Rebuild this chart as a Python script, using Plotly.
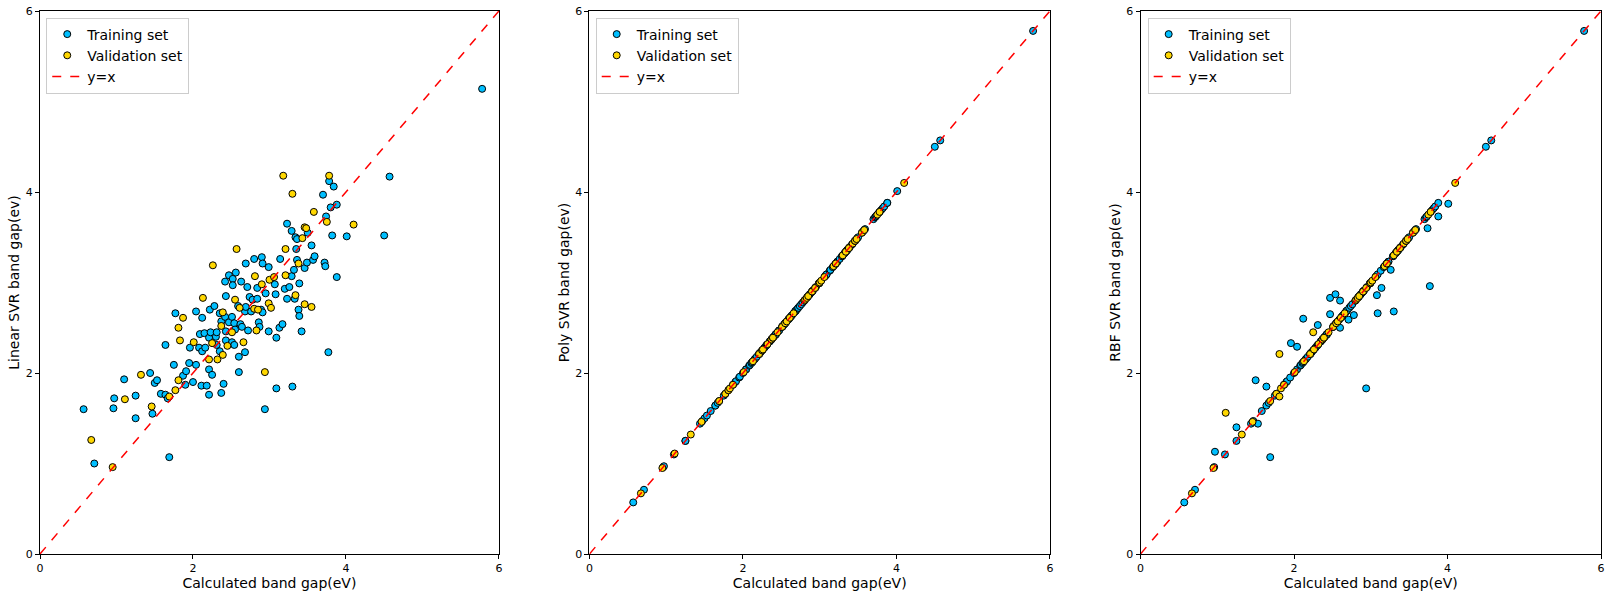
import plotly.graph_objects as go

# calculated band gaps (x) and model predictions (y)
train_calc = [0.57, 0.71, 0.96, 0.97, 1.10, 1.25, 1.25, 1.44, 1.47, 1.50,
              1.53, 1.58, 1.64, 1.64, 1.67, 1.69, 1.75, 1.77, 1.87, 1.90,
              1.91, 1.95, 1.96, 2.00, 2.04, 2.04, 2.08, 2.09, 2.11, 2.12,
              2.12, 2.15, 2.16, 2.18, 2.21, 2.21, 2.21, 2.22, 2.23, 2.25,
              2.28, 2.30, 2.31, 2.31, 2.35, 2.35, 2.37, 2.37, 2.40, 2.42,
              2.42, 2.43, 2.43, 2.43, 2.47, 2.47, 2.51, 2.51, 2.52, 2.52,
              2.54, 2.54, 2.55, 2.56, 2.59, 2.60, 2.60, 2.62, 2.63, 2.64,
              2.68, 2.68, 2.69, 2.69, 2.71, 2.72, 2.74, 2.76, 2.78, 2.80,
              2.84, 2.84, 2.86, 2.87, 2.89, 2.90, 2.91, 2.91, 2.94, 2.95,
              2.99, 2.99, 3.07, 3.08, 3.09, 3.09, 3.13, 3.14, 3.17, 3.20,
              3.23, 3.23, 3.26, 3.29, 3.29, 3.30, 3.32, 3.33, 3.34, 3.35,
              3.36, 3.36, 3.38, 3.39, 3.39, 3.42, 3.46, 3.49, 3.50, 3.55,
              3.57, 3.59, 3.70, 3.72, 3.73, 3.74, 3.77, 3.78, 3.80, 3.82,
              3.84, 3.88, 3.88, 4.01, 4.50, 4.57, 5.78]

train_linear = [1.60, 1.00, 1.61, 1.72, 1.93, 1.75, 1.50, 2.00, 1.55, 1.89,
                1.92, 1.77, 1.76, 2.31, 1.72, 1.07, 2.09, 2.66, 1.97, 1.87,
                2.02, 2.11, 2.28, 1.90, 2.09, 2.68, 2.28, 2.43, 1.86, 2.61,
                2.24, 2.44, 2.28, 1.86, 2.04, 1.76, 2.39, 2.70, 2.45, 1.98,
                2.74, 2.40, 2.45, 2.31, 2.66, 2.24, 2.57, 1.78, 1.88, 3.01,
                2.62, 2.85, 2.46, 2.36, 3.08, 2.56, 2.62, 2.34, 3.04, 2.97,
                2.55, 2.31, 2.48, 3.11, 2.74, 2.18, 2.01, 2.54, 3.01, 2.51,
                2.68, 2.23, 3.21, 2.73, 2.95, 2.47, 2.84, 2.68, 2.81, 3.26,
                2.94, 2.82, 2.56, 2.51, 2.70, 3.28, 3.21, 2.67, 1.60, 2.88,
                3.17, 2.46, 2.98, 2.87, 2.39, 1.83, 2.50, 3.26, 2.54, 2.93,
                3.65, 2.82, 2.95, 3.57, 3.07, 1.85, 3.14, 2.82, 3.50, 3.37,
                3.48, 3.25, 2.70, 2.99, 2.63, 2.46, 3.16, 3.22, 3.55, 3.41,
                3.25, 3.29, 3.97, 3.22, 3.18, 3.73, 2.23, 4.12, 3.83, 3.52,
                4.06, 3.86, 3.06, 3.51, 3.52, 4.17, 5.14]

train_poly = [0.57, 0.71, 0.96, 0.97, 1.10, 1.25, 1.25, 1.44, 1.47, 1.50,
              1.53, 1.58, 1.64, 1.64, 1.67, 1.69, 1.75, 1.77, 1.87, 1.90,
              1.91, 1.95, 1.96, 2.00, 2.04, 2.04, 2.08, 2.09, 2.11, 2.12,
              2.12, 2.15, 2.16, 2.18, 2.21, 2.21, 2.21, 2.22, 2.23, 2.25,
              2.28, 2.30, 2.31, 2.31, 2.35, 2.35, 2.37, 2.37, 2.40, 2.42,
              2.42, 2.43, 2.43, 2.43, 2.47, 2.47, 2.51, 2.51, 2.52, 2.52,
              2.54, 2.54, 2.55, 2.56, 2.59, 2.60, 2.60, 2.62, 2.63, 2.64,
              2.68, 2.68, 2.69, 2.69, 2.71, 2.72, 2.74, 2.76, 2.78, 2.80,
              2.84, 2.84, 2.86, 2.87, 2.89, 2.90, 2.91, 2.91, 2.94, 2.95,
              2.99, 2.99, 3.07, 3.08, 3.09, 3.09, 3.13, 3.14, 3.17, 3.20,
              3.23, 3.23, 3.26, 3.29, 3.29, 3.30, 3.32, 3.33, 3.34, 3.35,
              3.36, 3.36, 3.38, 3.39, 3.39, 3.42, 3.46, 3.49, 3.50, 3.55,
              3.57, 3.59, 3.70, 3.72, 3.73, 3.74, 3.77, 3.78, 3.80, 3.82,
              3.84, 3.88, 3.88, 4.01, 4.50, 4.57, 5.78]

train_rbf = [0.57, 0.71, 0.96, 1.13, 1.10, 1.40, 1.25, 1.44, 1.47, 1.92,
             1.44, 1.58, 1.85, 1.64, 1.67, 1.07, 1.75, 1.77, 1.87, 1.90,
             1.91, 1.95, 2.33, 2.00, 2.29, 2.04, 2.08, 2.09, 2.11, 2.60,
             2.12, 2.15, 2.16, 2.18, 2.21, 2.21, 2.21, 2.22, 2.23, 2.25,
             2.28, 2.30, 2.31, 2.53, 2.35, 2.35, 2.37, 2.37, 2.40, 2.42,
             2.42, 2.43, 2.43, 2.43, 2.83, 2.65, 2.51, 2.51, 2.52, 2.52,
             2.87, 2.54, 2.55, 2.56, 2.59, 2.80, 2.50, 2.62, 2.63, 2.64,
             2.68, 2.68, 2.69, 2.69, 2.59, 2.72, 2.74, 2.76, 2.64, 2.80,
             2.84, 2.84, 2.86, 2.87, 2.89, 2.90, 2.91, 2.91, 1.83, 2.95,
             2.99, 2.99, 3.07, 2.86, 3.09, 2.66, 3.13, 2.94, 3.17, 3.20,
             3.23, 3.23, 3.14, 3.29, 3.29, 2.68, 3.32, 3.33, 3.34, 3.35,
             3.36, 3.36, 3.38, 3.39, 3.39, 3.42, 3.46, 3.49, 3.50, 3.55,
             3.57, 3.59, 3.70, 3.72, 3.73, 3.60, 2.96, 3.78, 3.80, 3.82,
             3.84, 3.88, 3.73, 3.87, 4.50, 4.57, 5.78]

val_calc = [0.67, 0.95, 1.11, 1.32, 1.46, 1.69, 1.77, 1.81, 1.81, 1.83,
            1.87, 2.01, 2.13, 2.21, 2.25, 2.26, 2.32, 2.37, 2.39, 2.39,
            2.45, 2.51, 2.55, 2.57, 2.61, 2.66, 2.80, 2.81, 2.83, 2.85,
            2.90, 2.94, 2.99, 3.00, 3.02, 3.06, 3.18, 3.21, 3.21, 3.30,
            3.34, 3.38, 3.43, 3.46, 3.46, 3.48, 3.55, 3.58, 3.75, 3.78,
            4.10]

val_linear = [1.26, 0.96, 1.71, 1.98, 1.63, 1.74, 1.81, 1.92, 2.50, 2.36,
              2.61, 2.34, 2.83, 2.15, 2.33, 3.19, 2.15, 2.52, 2.67, 2.20,
              2.30, 2.45, 2.81, 3.37, 2.72, 2.34, 2.71, 3.07, 2.47, 2.70,
              2.98, 2.01, 2.77, 3.03, 2.72, 3.06, 4.18, 3.37, 3.08, 3.98,
              2.86, 3.21, 3.49, 3.61, 2.76, 3.60, 2.73, 3.78, 3.67, 4.18,
              3.64]

val_poly = [0.67, 0.95, 1.11, 1.32, 1.46, 1.69, 1.77, 1.81, 1.81, 1.83,
            1.87, 2.01, 2.13, 2.21, 2.25, 2.26, 2.32, 2.37, 2.39, 2.39,
            2.45, 2.51, 2.55, 2.57, 2.61, 2.66, 2.80, 2.81, 2.83, 2.85,
            2.90, 2.94, 2.99, 3.00, 3.02, 3.06, 3.18, 3.21, 3.21, 3.30,
            3.34, 3.38, 3.43, 3.46, 3.46, 3.48, 3.55, 3.58, 3.75, 3.78,
            4.10]

val_rbf = [0.67, 0.95, 1.56, 1.32, 1.46, 1.69, 1.77, 1.74, 2.21, 1.83,
           1.87, 2.01, 2.13, 2.21, 2.45, 2.26, 2.32, 2.37, 2.39, 2.39,
           2.45, 2.51, 2.55, 2.57, 2.61, 2.66, 2.80, 2.81, 2.83, 2.85,
           2.90, 2.94, 2.99, 3.00, 3.02, 3.06, 3.18, 3.21, 3.21, 3.30,
           3.34, 3.38, 3.43, 3.46, 3.46, 3.48, 3.55, 3.58, 3.75, 3.78,
           4.10]

axis_range = [0, 6]
tick_vals = [0, 2, 4, 6]
y_titles = ["Linear SVR band gap(ev)", "Poly SVR band gap(ev)", "RBF SVR band gap(ev)"]
train_preds = [train_linear, train_poly, train_rbf]
val_preds = [val_linear, val_poly, val_rbf]

# panel domains in paper coords
domains = [[0.0, 0.294], [0.352, 0.647], [0.705, 1.0]]
legend_x = [0.004, 0.356, 0.7096]

fig = go.Figure()

for i in range(3):
    n = "" if i == 0 else str(i + 1)
    xa, ya, lg = "x" + n, "y" + n, "legend" + n
    fig.add_trace(go.Scatter(
        x=train_calc, y=train_preds[i], mode="markers", name="Training set",
        xaxis=xa, yaxis=ya, legend=lg,
        marker=dict(color="#00BFFF", size=7, line=dict(color="black", width=1)),
    ))
    fig.add_trace(go.Scatter(
        x=val_calc, y=val_preds[i], mode="markers", name="Validation set",
        xaxis=xa, yaxis=ya, legend=lg,
        marker=dict(color="#FFD700", size=7, line=dict(color="black", width=1)),
    ))
    fig.add_trace(go.Scatter(
        x=axis_range, y=axis_range, mode="lines", name="y=x",
        xaxis=xa, yaxis=ya, legend=lg,
        line=dict(color="red", dash="dash", width=1.5),
    ))

    axis_style = dict(
        range=axis_range, tickvals=tick_vals, showgrid=False, zeroline=False,
        showline=True, linecolor="black", linewidth=1, mirror=True,
        ticks="outside", ticklen=4, tickcolor="black", automargin=False,
        tickfont=dict(size=11, color="black"),
    )
    fig.update_layout({
        "xaxis" + n: dict(axis_style, domain=domains[i], anchor=ya,
                          title=dict(text="Calculated band gap(eV)",
                                     font=dict(size=14, color="black"), standoff=3)),
        "yaxis" + n: dict(axis_style, domain=[0, 1], anchor=xa,
                          title=dict(text=y_titles[i],
                                     font=dict(size=14, color="black"), standoff=2)),
        lg: dict(x=legend_x[i], y=0.988, xanchor="left", yanchor="top",
                 bgcolor="rgba(255,255,255,0.8)", bordercolor="#cccccc",
                 borderwidth=1, font=dict(size=14, color="black"),
                 tracegroupgap=0),
    })

fig.update_layout(
    width=1611, height=596,
    margin=dict(l=40, r=10, t=11, b=42, autoexpand=False),
    plot_bgcolor="white", paper_bgcolor="white",
    font=dict(family="DejaVu Sans", color="black"),
)

# drop the page's default body margin so the figure sits at the window origin
fig.write_html("out.html", config={"displayModeBar": False},
               post_script="document.body.style.margin='0';")
